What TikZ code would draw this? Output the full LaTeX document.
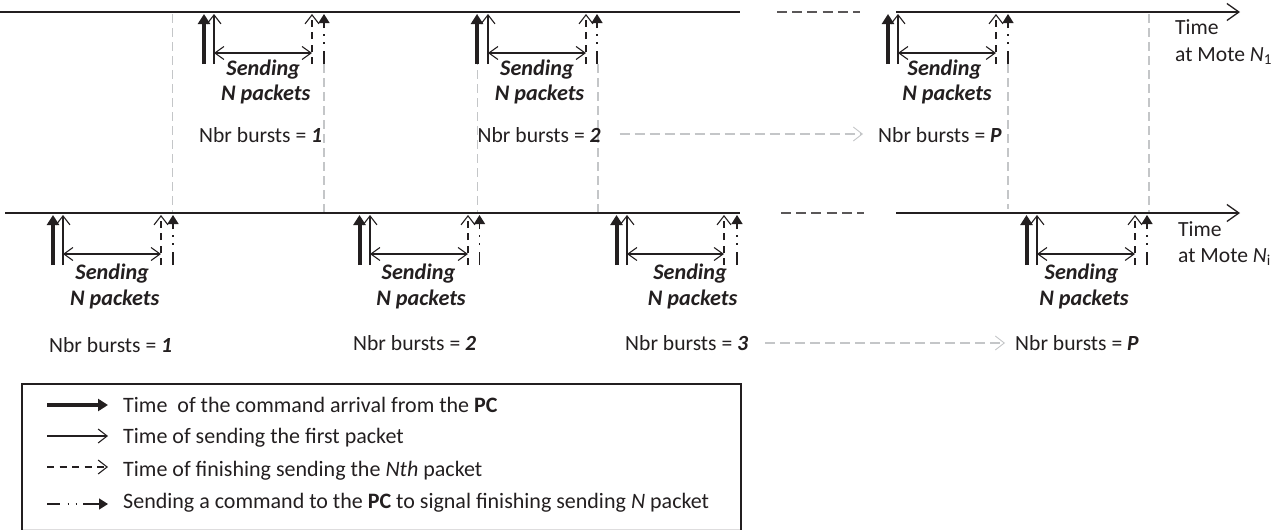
\documentclass[tikz,border=0pt]{standalone}
\usepackage{fontspec}
\setmainfont{Carlito}
\usetikzlibrary{arrows.meta}
\definecolor{ink}{HTML}{231F20}
\definecolor{guide}{HTML}{C4C6C8}
\tikzset{
  x=1pt,y=-1pt,
  txt/.style={inner sep=0pt,text=ink,font=\fontsize{21.6}{24}\selectfont},
  lbl/.style={txt,anchor=base west},
  keytext/.style={txt,anchor=base west,font=\fontsize{22}{24}\selectfont},
  send/.style={txt,anchor=base,font=\fontsize{22.2}{24}\selectfont\bfseries\itshape},
  axis/.style={draw=ink,line width=1.5pt},
  opentip/.style={-{Straight Barb[length=9pt,width=14pt,line width=1.1pt]}},
  thickarr/.style={draw=ink,line width=4pt,-{Triangle[length=10pt,width=12pt]}},
  thinarr/.style={draw=ink,line width=1.3pt,opentip},
  dasharr/.style={draw=ink,line width=1.3pt,dash pattern=on 7pt off 5.5pt,opentip},
  dotarr/.style={draw=ink,line width=1.4pt,dash pattern=on 13pt off 7.5pt on 1.5pt off 6.5pt on 1.5pt off 6pt on 60pt off 1pt,-{Triangle[length=9pt,width=11pt]}},
  span/.style={draw=ink,line width=1.3pt,{Straight Barb[length=9pt,width=13pt,line width=1.1pt]}-{Straight Barb[length=9pt,width=13pt,line width=1.1pt]}},
  guideline/.style={draw=guide,line width=1.2pt,dash pattern=on 9pt off 5pt},
  grayarr/.style={draw=guide,line width=1.2pt,dash pattern=on 10pt off 5pt,-{Straight Barb[length=9pt,width=14pt,line width=0.9pt]}},
  gap/.style={draw=ink!75,line width=1.2pt,dash pattern=on 10pt off 5.2pt},
  boxedge/.style={draw=ink,line width=1.4pt},
  boxfoot/.style={draw=ink!15,line width=1pt},
}
% #1 name, #2 thick x, #3 thin x, #4 dashed x, #5 dash-dot x, #6 line y, #7 text x, #8 baseline of first text row
\newcommand{\burstgroup}[8]{%
  \coordinate (#1a0) at (#2,#6+52);
  \coordinate (#1a1) at (#2,#6+2);
  \coordinate (#1b0) at (#3,#6+52);
  \coordinate (#1b1) at (#3,#6+2);
  \coordinate (#1c0) at (#4,#6+52);
  \coordinate (#1c1) at (#4,#6+2);
  \coordinate (#1d0) at (#5,#6+52);
  \coordinate (#1d1) at (#5,#6+2);
  \coordinate (#1s0) at (#3,#6+41);
  \coordinate (#1s1) at (#4,#6+41);
  \draw[thickarr] (#1a0) -- (#1a1);
  \draw[thinarr] (#1b0) -- (#1b1);
  \draw[dasharr] (#1c0) -- (#1c1);
  \draw[dotarr] (#1d0) -- (#1d1);
  \draw[span] (#1s0) -- (#1s1);
  \node[send] (#1t1) at (#7-2.5,#8) {Sending};
  \node[send] (#1t2) at (#7,#8+25.5) {N packets};
}
\begin{document}
\begin{tikzpicture}
\useasboundingbox (0,0) rectangle (1285,530);
% guide lines
\coordinate (g1a) at (172.5,14); \coordinate (g1b) at (172.5,213);
\coordinate (g2a) at (324,64); \coordinate (g2b) at (324,213);
\coordinate (g3a) at (477.5,14); \coordinate (g3b) at (477.5,213);
\coordinate (g4a) at (598,64); \coordinate (g4b) at (598,213);
\coordinate (g5a) at (1008,64); \coordinate (g5b) at (1008,209);
\coordinate (g6a) at (1149,14); \coordinate (g6b) at (1149,213);
\foreach \i in {1,...,6} \draw[guideline] (g\i a) -- (g\i b);
% axes
\coordinate (t0) at (0,12); \coordinate (t1) at (740,12);
\coordinate (t2) at (777,12); \coordinate (t3) at (860,12);
\coordinate (t4) at (896,12); \coordinate (t5) at (1240,12);
\coordinate (u0) at (5,213); \coordinate (u1) at (740,213);
\coordinate (u2) at (781,213); \coordinate (u3) at (864,213);
\coordinate (u4) at (896,213); \coordinate (u5) at (1240,213);
\draw[axis] (t0) -- (t1);
\draw[gap] (t2) -- (t3);
\draw[axis,-{Straight Barb[length=12pt,width=17pt,line width=1.3pt]}] (t4) -- (t5);
\draw[axis] (u0) -- (u1);
\draw[gap] (u2) -- (u3);
\draw[axis,-{Straight Barb[length=12pt,width=17pt,line width=1.3pt]}] (u4) -- (u5);
% bursts
\burstgroup{A}{204}{214}{312}{324}{12}{265.7}{75}
\burstgroup{B}{477}{488}{586}{597}{12}{539.5}{75}
\burstgroup{C}{888}{898}{996}{1008}{12}{947}{75}
\burstgroup{D}{53}{63}{161}{173}{213}{114.7}{279.5}
\burstgroup{E}{359.5}{370}{468}{479.5}{213}{421}{279.5}
\burstgroup{F}{616.5}{627}{724}{737}{213}{692.6}{279.5}
\burstgroup{G}{1026.5}{1037}{1135}{1147}{213}{1084}{279.5}
% counts
\node[lbl] (n1) at (199,142) {Nbr bursts = \textbf{\textit{1}}};
\node[lbl] (n2) at (477.5,142) {Nbr bursts = \textbf{\textit{2}}};
\node[lbl] (n3) at (878,142) {Nbr bursts = \textbf{\textit{P}}};
\node[lbl] (n4) at (49,352) {Nbr bursts = \textbf{\textit{1}}};
\node[lbl] (n5) at (353,350) {Nbr bursts = \textbf{\textit{2}}};
\node[lbl] (n6) at (625,350) {Nbr bursts = \textbf{\textit{3}}};
\node[lbl] (n7) at (1015,350) {Nbr bursts = \textbf{\textit{P}}};
\coordinate (ga0) at (619.5,134); \coordinate (ga1) at (863,134);
\coordinate (gb0) at (765,343); \coordinate (gb1) at (1005,343);
\draw[grayarr] (ga0) -- (ga1);
\draw[grayarr] (gb0) -- (gb1);
% time labels
\node[lbl] (l1) at (1175,34) {Time};
\node[lbl] (l2) at (1175,61) {at Mote \textit{N}\textsubscript{1}};
\node[lbl] (l3) at (1178,236) {Time};
\node[lbl] (l4) at (1178,262) {at Mote \textit{N}\textsubscript{i}};
% legend
\coordinate (b0) at (22,530); \coordinate (b1) at (22,384);
\coordinate (b2) at (741,384); \coordinate (b3) at (741,530);
\coordinate (b4) at (22,529); \coordinate (b5) at (741,529);
\draw[boxfoot] (b4) -- (b5);
\draw[boxedge] (b0) -- (b1) -- (b2) -- (b3);
\coordinate (k1a) at (47,405); \coordinate (k1b) at (108,405);
\coordinate (k2a) at (47,436); \coordinate (k2b) at (108,436);
\coordinate (k3a) at (47,467); \coordinate (k3b) at (108,467);
\coordinate (k4a) at (47,504); \coordinate (k4b) at (108,504);
\draw[thickarr] (k1a) -- (k1b);
\draw[thinarr] (k2a) -- (k2b);
\draw[dasharr] (k3a) -- (k3b);
\draw[dotarr] (k4a) -- (k4b);
\node[keytext] (t1l) at (123,412) {Time\ \ of the command arrival from the \textbf{PC}};
\node[keytext] (t2l) at (123,443) {Time of sending the first packet};
\node[keytext] (t3l) at (123,476) {Time of finishing sending the \textit{Nth} packet};
\node[keytext] (t4l) at (123,508) {Sending a command to the \textbf{PC} to signal finishing sending \textit{N} packet};
\end{tikzpicture}
\end{document}
